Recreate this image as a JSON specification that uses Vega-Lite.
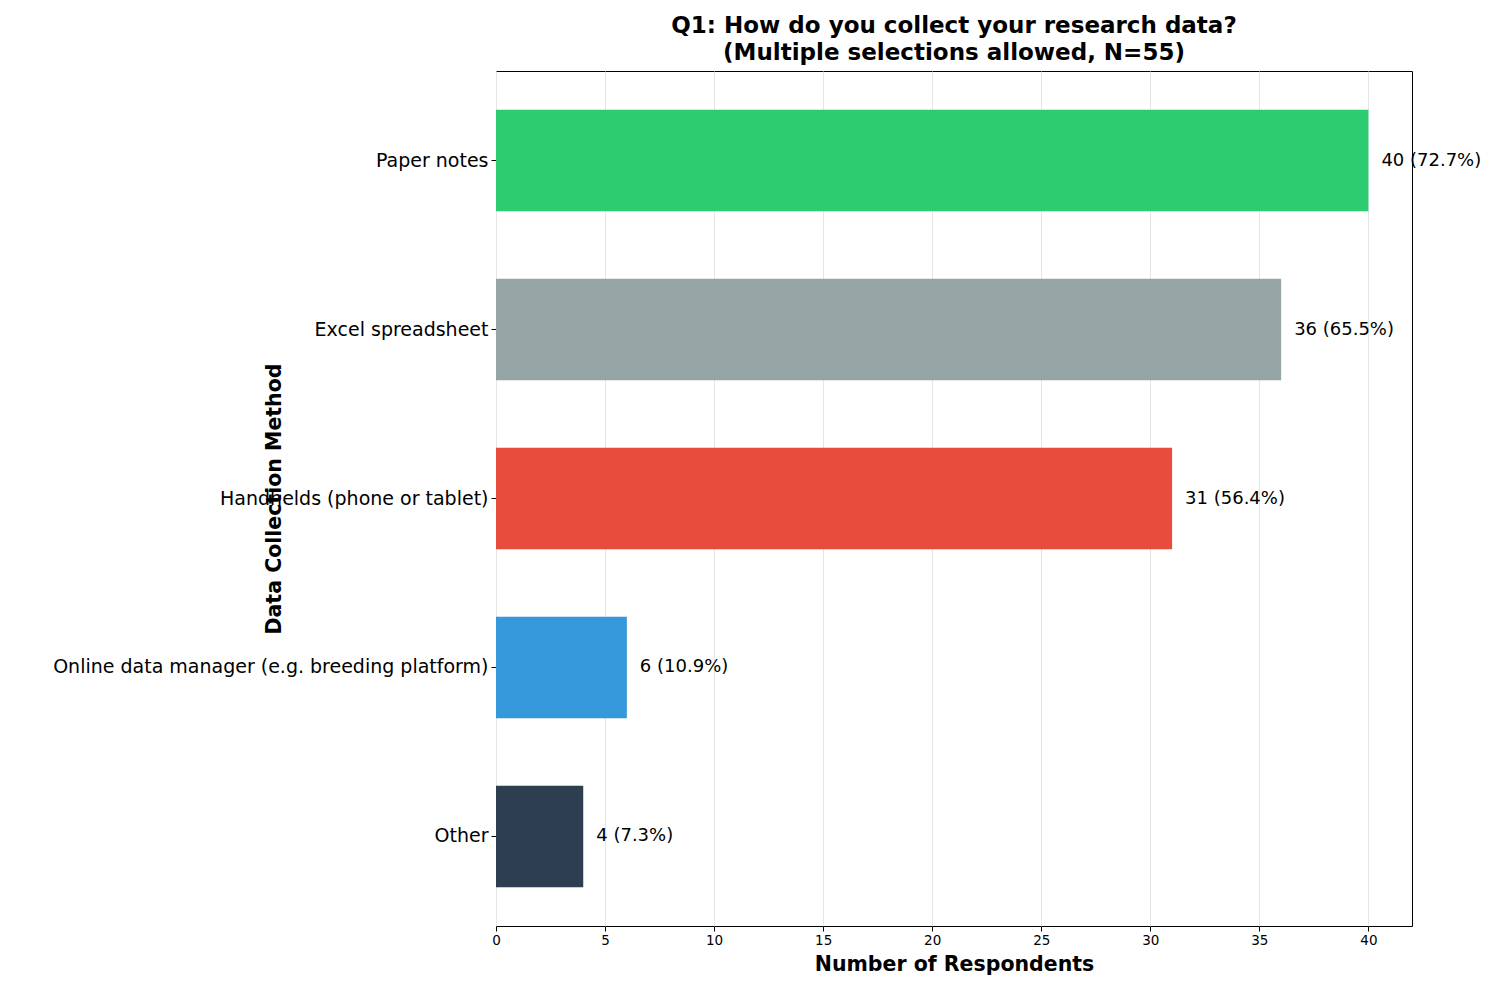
{
"$schema":"https://vega.github.io/schema/vega-lite/v6.json",
"width":916,"height":855,
"autosize":{"type":"none"},
"padding":{"left":496,"top":71,"right":88,"bottom":71},
"background":"white",
"title":{"text":["Q1: How do you collect your research data?","(Multiple selections allowed, N=55)"],"font":"DejaVu Sans","fontSize":23,"fontWeight":"bold","color":"black","offset":6,"lineHeight":27},
"config":{"font":"DejaVu Sans","view":{"stroke":"black","strokeWidth":1}},
"data":{"values":[
{"method":"Paper notes","count":40,"label":"40 (72.7%)","color":"#2ecc71"},
{"method":"Excel spreadsheet","count":36,"label":"36 (65.5%)","color":"#95a5a6"},
{"method":"Handhelds (phone or tablet)","count":31,"label":"31 (56.4%)","color":"#e74c3c"},
{"method":"Online data manager (e.g. breeding platform)","count":6,"label":"6 (10.9%)","color":"#3498db"},
{"method":"Other","count":4,"label":"4 (7.3%)","color":"#2c3e50"}
]},
"encoding":{
"y":{"field":"method","type":"nominal","sort":null,"scale":{"paddingInner":0.4,"paddingOuter":0.23},
"axis":{"title":"Data Collection Method","titleFontSize":20.5,"titleFontWeight":"bold","titleColor":"black","titlePadding":12,"labelFontSize":19,"labelLimit":0,"labelColor":"black","domain":false,"tickColor":"black","tickSize":5,"labelPadding":3}},
"x":{"field":"count","type":"quantitative","scale":{"domain":[0,42],"nice":false},
"axis":{"title":"Number of Respondents","titleFontSize":20.5,"titleFontWeight":"bold","titleColor":"black","titlePadding":8,"values":[0,5,10,15,20,25,30,35,40],"labelFontSize":13.5,"labelColor":"black","tickColor":"black","tickSize":5,"domain":false,"grid":true,"gridColor":"#e5e5e5","labelFlush":false}}
},
"layer":[
{"mark":{"type":"bar"},"encoding":{"color":{"field":"color","type":"nominal","scale":null}}},
{"mark":{"type":"text","align":"left","dx":13,"fontSize":18,"color":"black"},"encoding":{"text":{"field":"label"}}}
]
}
